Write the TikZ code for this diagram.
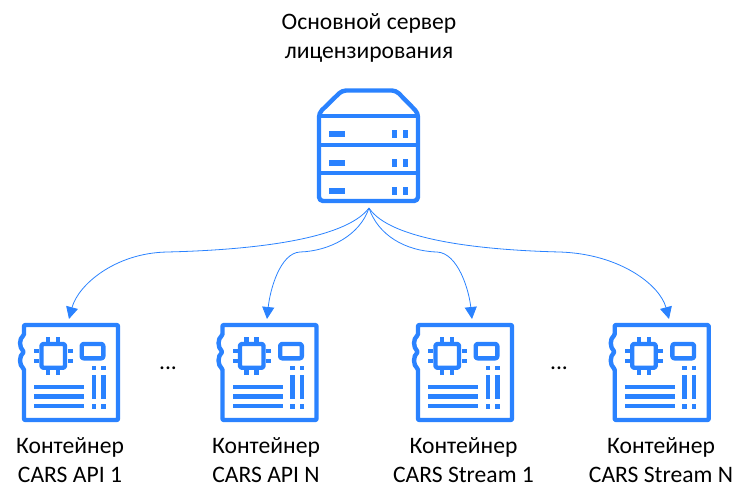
\documentclass[tikz,border=0pt]{standalone}
\usepackage{fontspec}
\setmainfont{Carlito}
\usetikzlibrary{arrows.meta}
\definecolor{iconblue}{HTML}{2A82FF}
\tikzset{
    iconline/.style={draw=iconblue, line width=3.3pt, line join=round},
    iconfill/.style={fill=iconblue},
    link/.style={draw=iconblue, line width=0.6pt, -{Triangle[length=9pt, width=9pt]}},
    label/.style={font=\fontsize{17.7}{21.2}\selectfont, align=center, inner sep=0pt},
    hidden/.style={inner sep=0pt, outer sep=0pt},
    boardicon/.pic={
        \draw[iconline, rounded corners=0.8pt] (0,10) .. controls (-5,14) and (-5,22) .. (0,27)
            .. controls (-5,31) and (-5,40) .. (0,44) -- (0,95) -- (94,95) -- (94,0) -- (0,0) -- cycle;
        \draw[iconline, rounded corners=1.5pt] (17.5,19) rectangle (41,42.7);
        \draw[iconline, rounded corners=1.5pt] (57.7,19) rectangle (79.3,33.3);
        % pins of the chip
        \foreach \p in {24,34} {
            \fill[iconfill] (\p-2.2,12) rectangle (\p+2.2,17);
            \fill[iconfill] (\p-2.2,45) rectangle (\p+2.2,50);
        }
        \foreach \p in {26,36} {
            \fill[iconfill] (10,\p-2.2) rectangle (15,\p+2.2);
            \fill[iconfill] (43.5,\p-2.2) rectangle (48.5,\p+2.2);
        }
        \foreach \p in {62,71.7,81}
            \fill[iconfill] (10.3,\p-2.3) rectangle (60,\p+2.3);
        \foreach \p in {69.8,79.3} {
            \fill[iconfill] (\p-2.3,40.7) rectangle (\p+2.3,45.3);
            \fill[iconfill] (\p-2.3,50.3) rectangle (\p+2.3,74);
            \fill[iconfill] (\p-2.3,79) rectangle (\p+2.3,83.7);
        }
    }
}
\begin{document}
\begin{tikzpicture}[x=0.75pt, y=-0.75pt]
    \useasboundingbox (0,0) rectangle (749,501);

    \node[label] (title) at (369,38) {Основной сервер\\лицензирования};

    % server
    \node[hidden, minimum width=78pt, minimum height=90pt] (server) at (369,148) {};
    \draw[iconline, rounded corners=3pt] (319,113) -- (342,90.5) -- (396,90.5) -- (418,113) -- (418,201) -- (319,201) -- cycle;
    \draw[iconline] (319,116) -- (418,116);
    \draw[iconline] (319,145) -- (418,145);
    \draw[iconline] (319,173) -- (418,173);
    \foreach \y in {134,163,191} {
        \fill[iconfill] (329,\y-2.6) rectangle (345,\y+2.6);
        \fill[iconfill] (392,\y-4) rectangle (397,\y+4);
        \fill[iconfill] (403,\y-4) rectangle (408,\y+4);
    }

    % boards
    \foreach \i/\x in {1/24, 2/222.5, 3/418, 4/614.7} {
        \node[hidden, minimum width=73.5pt, minimum height=74pt] (board\i) at (\x+47,372.5) {};
        \pic at (\x,325) {boardicon};
    }

    \node[label] (cont1) at (70,460) {Контейнер\\CARS API 1};
    \node[label] (cont2) at (266,460) {Контейнер\\CARS API N};
    \node[label] (cont3) at (463.5,460) {Контейнер\\CARS Stream 1};
    \node[label] (cont4) at (661,460) {Контейнер\\CARS Stream N};

    \node[label] (dots1) at (168,368) {...};
    \node[label] (dots2) at (559,368) {...};

    \coordinate (tip1) at (69,319);
    \coordinate (tip2) at (267,319);
    \coordinate (tip3) at (472,319);
    \coordinate (tip4) at (669,319);

    \draw[link] (server.south) .. controls (345,240) and (250,250) .. (167,252) .. controls (115,253) and (78,285) .. (tip1);
    \draw[link] (server.south) .. controls (360,235) and (330,251) .. (300,252) .. controls (280,253) and (270,290) .. (tip2);
    \draw[link] (server.south) .. controls (378,235) and (405,251) .. (437,252) .. controls (458,253) and (469,290) .. (tip3);
    \draw[link] (server.south) .. controls (390,240) and (480,250) .. (560,252) .. controls (620,254) and (660,285) .. (tip4);
\end{tikzpicture}
\end{document}
